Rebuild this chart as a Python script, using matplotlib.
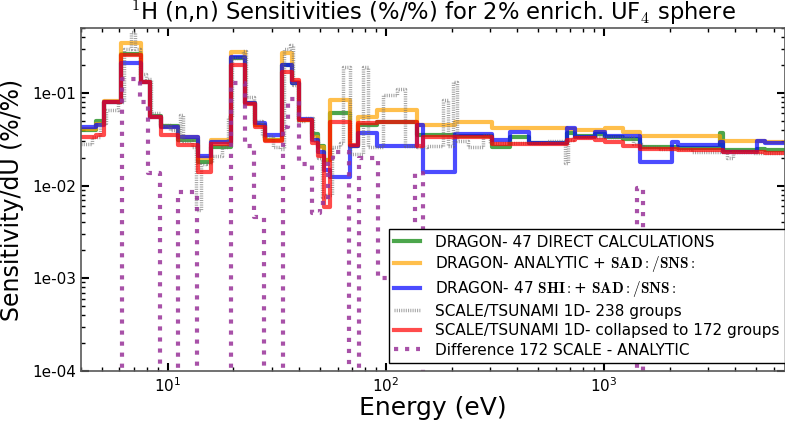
import matplotlib
matplotlib.use('Agg')
import matplotlib.pyplot as plt
from matplotlib.ticker import FormatStrFormatter, NullFormatter

plt.rcParams['mathtext.fontset'] = 'cm'

# DRAGON / collapsed SCALE group edges (eV)
dragon_edges = [4.0, 4.67, 5.09, 6.09, 7.52, 8.27, 9.29, 11.1, 13.7, 15.7,
                19.5, 22.6, 25.1, 27.9, 33.3, 37.1, 39.9, 45.8, 48.8, 51.9,
                55.4, 68.4, 74.4, 90.9, 138.7, 147.8, 207, 306, 370, 453,
                676, 736, 910, 1011, 1223, 1463, 2050, 2185, 3404, 3515,
                5035, 5480, 6760]

direct = [0.040, 0.050, 0.080, 0.26, 0.131, 0.056, 0.044, 0.031, 0.018, 0.026,
          0.235, 0.078, 0.045, 0.031, 0.20, 0.128, 0.051, 0.036, 0.027, 0.019,
          0.061, 0.027, 0.045, 0.048, 0.035, 0.035, 0.034, 0.026, 0.0335, 0.029,
          0.037, 0.034, 0.036, 0.033, 0.032, 0.026, 0.026, 0.0255, 0.037, 0.0243,
          0.025, 0.0243]

analytic = [0.041, 0.046, 0.082, 0.346, 0.131, 0.055, 0.043, 0.033, 0.020, 0.031,
            0.277, 0.078, 0.045, 0.031, 0.27, 0.13, 0.051, 0.033, 0.026, 0.019,
            0.084, 0.027, 0.055, 0.066, 0.045, 0.045, 0.049, 0.042, 0.042, 0.042,
            0.041, 0.040, 0.040, 0.042, 0.038, 0.034, 0.034, 0.034, 0.030, 0.030,
            0.030, 0.0296]

shi = [0.043, 0.045, 0.080, 0.211, 0.131, 0.055, 0.043, 0.0335, 0.0209, 0.0296,
       0.244, 0.078, 0.047, 0.035, 0.20, 0.128, 0.052, 0.031, 0.023, 0.0148,
       0.0124, 0.027, 0.037, 0.027, 0.045, 0.014, 0.036, 0.031, 0.038, 0.0289,
       0.042, 0.033, 0.038, 0.034, 0.034, 0.018, 0.0296, 0.0275, 0.0296, 0.0231,
       0.030, 0.0289]

scale172 = [0.0335, 0.035, 0.079, 0.257, 0.131, 0.055, 0.035, 0.0275, 0.0141, 0.028,
            0.200, 0.076, 0.043, 0.030, 0.169, 0.138, 0.051, 0.029, 0.021, 0.0059,
            0.049, 0.0275, 0.047, 0.048, 0.027, 0.0335, 0.0335, 0.028, 0.028, 0.028,
            0.031, 0.0327, 0.031, 0.0296, 0.027, 0.0249, 0.025, 0.0243, 0.024, 0.0231,
            0.023, 0.0225]

# fine 238 group SCALE curve
scale238_edges = [3.99, 4.48, 4.88, 5.19, 5.90, 6.28, 6.77, 7.06, 7.44, 7.93,
                  8.36, 9.19, 10.2, 11.1, 11.35, 11.8, 12.9, 13.4, 14.2, 14.9,
                  15.9, 17.7, 18.8, 19.7, 22.1, 22.8, 24.8, 27.0, 30.3, 32.7,
                  34.1, 36.3, 37.4, 39.5, 42.5, 46.3, 48.8, 50.9, 53.1, 56.5,
                  61.5, 63.5, 68.4, 78.4, 82.7, 96.9, 112.3, 122.3, 138.8, 154.2,
                  182.6, 192.5, 203, 211.7, 237.8, 278.6, 300, 547.6, 662.5, 683.9,
                  721, 1358, 1510, 1807, 2533, 3664, 3906, 4823, 6760]
scale238 = [0.028, 0.033, 0.047, 0.066, 0.08, 0.30, 0.45, 0.30, 0.16, 0.14,
            0.06, 0.045, 0.04, 0.031, 0.058, 0.030, 0.026, 0.0055, 0.017, 0.0176,
            0.021, 0.026, 0.055, 0.24, 0.28, 0.09, 0.05, 0.034, 0.026, 0.025,
            0.30, 0.33, 0.12, 0.05, 0.054, 0.03, 0.02, 0.0075, 0.008, 0.026,
            0.029, 0.19, 0.022, 0.19, 0.026, 0.095, 0.11, 0.027, 0.026, 0.027,
            0.084, 0.027, 0.13, 0.03, 0.026, 0.035, 0.029, 0.030, 0.0175, 0.031,
            0.033, 0.028, 0.026, 0.025, 0.023, 0.020, 0.023, 0.0225]

# difference 172 SCALE - ANALYTIC (0 -> off the log axis)
diff_edges = [3.99, 6.15, 7.44, 8.10, 9.19, 11.1, 13.6, 19.5, 22.6, 24.8,
              27.6, 33.7, 35.5, 39.9, 45.8, 49.8, 54.2, 57.1, 67.7, 75.2,
              91.9, 135.8, 147.8, 1417, 1510, 6760]
diff = [0, 0.14, 0.08, 0.0137, 0, 0.0086, 0, 0.128, 0.027, 0.0046,
        0, 0.043, 0.086, 0.017, 0.005, 0.0065, 0.02, 0.023, 0, 0.02,
        0.001, 0.0137, 0, 0.0094, 0]


def stairs(ax, edges, vals, **kw):
    return ax.step(edges, list(vals) + [vals[-1]], where='post', **kw)


def main():
    fig = plt.figure(figsize=(7.85, 4.22), dpi=100)
    ax = fig.add_axes([0.1032, 0.1209, 0.8968, 0.8128])
    ax.set_xscale('log')
    ax.set_yscale('log', nonpositive='clip')

    lw = 3
    stairs(ax, dragon_edges, direct, color='g', alpha=0.7, lw=lw,
           label='DRAGON- 47 DIRECT CALCULATIONS')
    stairs(ax, dragon_edges, analytic, color='orange', alpha=0.7, lw=lw,
           label=r'DRAGON- ANALYTIC + $\mathbf{SAD:/SNS:}$')
    stairs(ax, dragon_edges, shi, color='b', alpha=0.7, lw=lw,
           label=r'DRAGON- 47 $\mathbf{SHI:}$+ $\mathbf{SAD:/SNS:}$')
    stairs(ax, scale238_edges, scale238, color='0.4', alpha=0.6, lw=2.5,
           ls=(0, (0.3, 0.35)), label='SCALE/TSUNAMI 1D- 238 groups')
    stairs(ax, dragon_edges, scale172, color='r', alpha=0.7, lw=lw,
           label='SCALE/TSUNAMI 1D- collapsed to 172 groups')
    stairs(ax, diff_edges, diff, color='#993399', alpha=0.85, lw=3, ls=':',
           label='Difference 172 SCALE - ANALYTIC')

    ax.set_xlim(4.0, 6760)
    ax.set_ylim(1e-4, 0.5)
    ax.yaxis.set_major_formatter(FormatStrFormatter('%.0e'))
    ax.yaxis.set_minor_formatter(NullFormatter())
    ax.xaxis.set_minor_formatter(NullFormatter())
    ax.tick_params(which='both', direction='in', top=True, right=True)
    ax.tick_params(which='major', length=6, width=1.5, labelsize=11)
    ax.tick_params(which='minor', length=3, width=1)
    for s in ax.spines.values():
        s.set_color('0.35')
        s.set_linewidth(1.2)

    ax.set_title(r'$^1$H (n,n) Sensitivities (%/%) for 2% enrich. UF$_4$ sphere',
                 fontsize=16.3, pad=4)
    ax.set_xlabel('Energy (eV)', fontsize=18, labelpad=1)
    ax.set_ylabel('Sensitivity/dU (%/%)', fontsize=17, labelpad=6)

    leg = ax.legend(loc='lower right', bbox_to_anchor=(1.0, 0.023),
                    borderaxespad=0, fontsize=11, fancybox=False,
                    framealpha=1, edgecolor='k', handlelength=1.7,
                    handletextpad=1.0, labelspacing=0.3, borderpad=0.35)
    leg.get_frame().set_linewidth(1.0)

    fig.savefig('out.png', dpi=100)


if __name__ == "__main__":
    main()
